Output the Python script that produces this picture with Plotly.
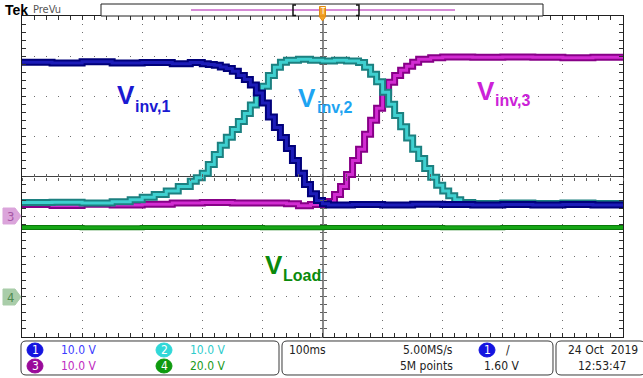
import plotly.graph_objects as go

# ---------------- data (time in ms, 100 ms/div; amplitude in screen divisions) -------------
t_ch1 = [-500,-450,-400,-350,-300,-250,-220,-200,-190,-180,-170,-160,-150,-140,-130,-120,-110,-100,
         -90,-80,-70,-60,-50,-40,-30,-20,-10,0,10,50,100,150,200,250,300,350,400,450,500]
v_ch1 = [2.85,2.83,2.86,2.83,2.84,2.81,2.84,2.81,2.79,2.77,2.73,2.69,2.62,2.52,2.42,2.28,2.08,1.83,
         1.48,1.22,0.97,0.70,0.40,0.08,-0.20,-0.43,-0.60,-0.68,-0.71,-0.70,-0.71,-0.69,-0.70,-0.71,
         -0.70,-0.71,-0.70,-0.71,-0.70]

t_ch2 = [-500,-450,-400,-350,-320,-300,-280,-260,-240,-220,-210,-200,-190,-180,-170,-160,-150,-140,
         -130,-120,-110,-100,-90,-80,-70,-60,-40,-20,0,20,40,60,70,80,90,100,110,120,130,140,150,160,
         170,180,190,200,210,220,230,250,300,350,400,450,500]
v_ch2 = [-0.65,-0.64,-0.66,-0.63,-0.58,-0.52,-0.45,-0.36,-0.25,-0.12,-0.03,0.08,0.30,0.55,0.78,0.98,
         1.17,1.37,1.57,1.78,2.02,2.25,2.52,2.72,2.85,2.90,2.92,2.90,2.88,2.90,2.88,2.84,2.72,2.55,2.36,
         2.10,1.80,1.52,1.24,0.96,0.68,0.45,0.20,-0.02,-0.22,-0.36,-0.48,-0.58,-0.65,-0.67,-0.66,-0.67,
         -0.66,-0.67,-0.66]

t_ch3 = [-500,-450,-400,-350,-300,-250,-200,-150,-100,-60,-40,-20,0,10,20,30,40,50,60,70,80,90,100,
         110,120,130,140,150,160,180,200,250,300,350,400,450,500]
v_ch3 = [-0.70,-0.72,-0.69,-0.71,-0.69,-0.66,-0.65,-0.66,-0.66,-0.68,-0.73,-0.70,-0.68,-0.62,-0.45,
         -0.25,0.05,0.40,0.68,1.05,1.40,1.70,2.10,2.35,2.52,2.65,2.75,2.85,2.92,2.96,2.98,2.97,2.98,
         2.97,2.96,2.97,2.96]

t_ch4 = [-500,-400,-300,-200,-100,0,100,200,300,400,500]
v_ch4 = [-1.27,-1.28,-1.27,-1.27,-1.28,-1.27,-1.27,-1.28,-1.27,-1.27,-1.28]

trace_labels = ["V", "inv,1", "inv,2", "inv,3", "Load"]
ch_scale_text = ["10.0 V", "10.0 V", "10.0 V", "20.0 V"]
timebase_text = "100ms"
sample_rate_text = "5.00MS/s"
record_text = "5M points"
trigger_level_text = "1.60 V"
date_text = "24 Oct  2019"
time_text = "12:53:47"

# ---------------- geometry helpers (decorations only) ----------------
W, H = 643, 378
L, R, T, B = 22, 623, 16, 337


def px(x):
    return (x - L) / (R - L)


def py(y):
    return (B - y) / (B - T)


fig = go.Figure()

channels = [
    (t_ch4, v_ch4, "#0a7a0a", "#16a616", 5, 3),
    (t_ch3, v_ch3, "#870087", "#d22cd2", 7, 3),
    (t_ch2, v_ch2, "#1c8080", "#3fd0d0", 7, 3),
    (t_ch1, v_ch1, "#00007a", "#1c1cb8", 7, 3),
]
for t, v, dark, light, w1, w2 in channels:
    fig.add_trace(go.Scatter(x=t, y=v, mode="lines", line=dict(color=dark, width=w1, shape="hv"),
                             hoverinfo="skip", showlegend=False))
    fig.add_trace(go.Scatter(x=t, y=v, mode="lines", line=dict(color=light, width=w2, shape="hv"),
                             hoverinfo="skip", showlegend=False))

# dummy traces to activate centre tick axes
fig.add_trace(go.Scatter(x=[None], y=[None], xaxis="x2", yaxis="y2", showlegend=False, hoverinfo="skip"))
fig.add_trace(go.Scatter(x=[None], y=[None], xaxis="x3", yaxis="y3", showlegend=False, hoverinfo="skip"))

common_x = dict(range=[-500, 500], showticklabels=False, fixedrange=True)
common_y = dict(range=[-4, 4], showticklabels=False, fixedrange=True)

fig.update_layout(
    width=W, height=H,
    margin=dict(l=L, r=W - R, t=T, b=H - B, pad=0),
    paper_bgcolor="white", plot_bgcolor="white",
    showlegend=False,
    xaxis=dict(**common_x, tickmode="linear", tick0=-500, dtick=100,
               showgrid=True, gridcolor="#6e6e6e", gridwidth=1, griddash="1px,7px",
               zeroline=True, zerolinecolor="#8a8a8a", zerolinewidth=2,
               showline=True, linecolor="#202020", linewidth=1, mirror="ticks",
               ticks="inside", ticklen=4, tickcolor="#303030",
               minor=dict(tickmode="linear", tick0=-500, dtick=20, ticks="inside", ticklen=4,
                          tickcolor="#303030", showgrid=False)),
    yaxis=dict(**common_y, tickmode="linear", tick0=-4, dtick=1,
               showgrid=True, gridcolor="#6e6e6e", gridwidth=1, griddash="1px,11px",
               zeroline=True, zerolinecolor="#404040", zerolinewidth=1,
               showline=True, linecolor="#202020", linewidth=1, mirror="ticks",
               ticks="inside", ticklen=4, tickcolor="#303030",
               minor=dict(tickmode="linear", tick0=-4, dtick=0.2, ticks="inside", ticklen=4,
                          tickcolor="#303030", showgrid=False)),
    xaxis2=dict(**common_x, overlaying="x", anchor="free", position=0.5, showgrid=False,
                zeroline=False, showline=False, tickmode="linear", tick0=-500, dtick=20,
                ticks="outside", ticklen=3, tickcolor="#606060"),
    yaxis2=dict(**common_y, overlaying="y", anchor="free", position=0.5, showgrid=False,
                zeroline=False, showline=False, tickmode="linear", tick0=-4, dtick=0.2,
                ticks="outside", ticklen=3, tickcolor="#606060"),
    xaxis3=dict(**common_x, overlaying="x", anchor="free", position=0.5, showgrid=False,
                zeroline=False, showline=False, tickmode="linear", tick0=-500, dtick=20,
                ticks="inside", ticklen=3, tickcolor="#606060"),
    yaxis3=dict(**common_y, overlaying="y", anchor="free", position=0.5, showgrid=False,
                zeroline=False, showline=False, tickmode="linear", tick0=-4, dtick=0.2,
                ticks="inside", ticklen=3, tickcolor="#606060"),
)

shapes = []
ann = []

# ---- trace labels ----
def label(x_left, y_mid_big, y_mid_small, x_sub, sub, color):
    ann.append(dict(x=px(x_left), y=py(y_mid_big), xref="paper", yref="paper", text="<b>V</b>",
                    showarrow=False, xanchor="left", yanchor="middle",
                    font=dict(family="Liberation Sans, Arial", size=26, color=color)))
    ann.append(dict(x=px(x_sub), y=py(y_mid_small), xref="paper", yref="paper", text="<b>%s</b>" % sub,
                    showarrow=False, xanchor="left", yanchor="middle",
                    font=dict(family="Liberation Sans, Arial", size=16, color=color)))

label(115, 95, 106, 133, trace_labels[1], "#1a1ad2")
label(296, 98, 107, 315, trace_labels[2], "#1ea4f2")
label(475, 91, 100, 493, trace_labels[3], "#cc22d8")
label(263, 265, 275, 281, trace_labels[4], "#0b8a0b")

# ---- top bar ----
ann.append(dict(x=px(3), y=py(9.5), xref="paper", yref="paper", text="<b>Tek</b>", showarrow=False,
                xanchor="left", yanchor="middle", font=dict(family="Liberation Sans, Arial", size=14, color="black")))
ann.append(dict(x=px(31), y=py(9), xref="paper", yref="paper", text="PreVu", showarrow=False,
                xanchor="left", yanchor="middle",
                font=dict(family="Liberation Sans Narrow, DejaVu Sans Condensed, Arial", size=11, color="#555555")))

shapes.append(dict(type="rect", xref="paper", yref="paper", x0=px(101), x1=px(543), y0=py(16), y1=py(4),
                   line=dict(color="#202020", width=1), fillcolor="white", layer="above"))
shapes.append(dict(type="line", xref="paper", yref="paper", x0=px(191), x1=px(455), y0=py(10), y1=py(10),
                   line=dict(color="#d68ad6", width=2), layer="above"))
for xb, d in [(293, 3), (359, -3)]:
    shapes.append(dict(type="path", xref="paper", yref="paper",
                       path="M %f,%f L %f,%f L %f,%f L %f,%f" % (px(xb + d), py(5), px(xb), py(5),
                                                                   px(xb), py(15.5), px(xb + d), py(15.5)),
                       line=dict(color="#111111", width=1.5), layer="above"))
shapes.append(dict(type="rect", xref="paper", yref="paper", x0=px(319.5), x1=px(325.5), y0=py(16.5), y1=py(6.5),
                   line=dict(color="#e08a10", width=1), fillcolor="#f3a32a", layer="above"))
shapes.append(dict(type="path", xref="paper", yref="paper",
                   path="M %f,%f L %f,%f L %f,%f Z" % (px(319), py(16), px(326), py(16), px(322.5), py(21)),
                   line=dict(color="#e08a10", width=1), fillcolor="#f3a32a", layer="above"))
ann.append(dict(x=px(322.5), y=py(11.5), xref="paper", yref="paper", text="T", showarrow=False,
                xanchor="center", yanchor="middle",
                font=dict(family="DejaVu Sans Condensed, Arial", size=8, color="white")))

# ---- left ground markers ----
for ymid, fill, tcol, num in [(216, "#dba4db", "#a657a6", "3"), (297, "#a9cda9", "#4f8a4f", "4")]:
    shapes.append(dict(type="path", xref="paper", yref="paper",
                       path="M %f,%f L %f,%f L %f,%f L %f,%f L %f,%f Z" % (
                           px(3), py(ymid - 8), px(15), py(ymid - 8), px(21), py(ymid),
                           px(15), py(ymid + 8), px(3), py(ymid + 8)),
                       line=dict(color=fill, width=1), fillcolor=fill, layer="above"))
    ann.append(dict(x=px(10.5), y=py(ymid), xref="paper", yref="paper", text=num, showarrow=False,
                    xanchor="center", yanchor="middle",
                    font=dict(family="DejaVu Sans Condensed, Arial", size=13, color=tcol)))

# ---- bottom status boxes ----
for x0, x1 in [(21, 279), (282, 553), (556, 645)]:
    shapes.append(dict(type="path", xref="paper", yref="paper",
                       path="M %f,%f L %f,%f Q %f,%f %f,%f L %f,%f Q %f,%f %f,%f L %f,%f Q %f,%f %f,%f L %f,%f Q %f,%f %f,%f Z" % (
                           px(x0 + 5), py(341), px(x1 - 5), py(341), px(x1), py(341), px(x1), py(346),
                           px(x1), py(370), px(x1), py(375), px(x1 - 5), py(375),
                           px(x0 + 5), py(375), px(x0), py(375), px(x0), py(370),
                           px(x0), py(346), px(x0), py(341), px(x0 + 5), py(341)),
                       line=dict(color="#3a3a3a", width=1), layer="above"))

status_font = "Liberation Sans Narrow, DejaVu Sans Condensed, Arial"
badges = [
    (35, 350, "#1414e0", "1", "#3c3cff", ch_scale_text[0]),
    (164, 350, "#30d8d8", "2", "#2ecccc", ch_scale_text[1]),
    (35, 366, "#9a0a9a", "3", "#c02cc0", ch_scale_text[2]),
    (164, 366, "#0e9a0e", "4", "#1a9a1a", ch_scale_text[3]),
]
for cx, cy, ccol, num, tcol, txt in badges:
    shapes.append(dict(type="circle", xref="paper", yref="paper", x0=px(cx - 8), x1=px(cx + 8),
                       y0=py(cy + 7), y1=py(cy - 7), line=dict(color=ccol, width=1), fillcolor=ccol,
                       layer="above"))
    ann.append(dict(x=px(cx), y=py(cy), xref="paper", yref="paper", text=num, showarrow=False,
                    xanchor="center", yanchor="middle", font=dict(family=status_font, size=12, color="white")))
    ann.append(dict(x=px(cx + 24), y=py(cy), xref="paper", yref="paper", text=txt, showarrow=False,
                    xanchor="left", yanchor="middle", font=dict(family=status_font, size=12, color=tcol)))

# trigger badge
shapes.append(dict(type="circle", xref="paper", yref="paper", x0=px(479), x1=px(495),
                   y0=py(357), y1=py(343), line=dict(color="#1414e0", width=1), fillcolor="#1414e0", layer="above"))
ann.append(dict(x=px(487), y=py(350), xref="paper", yref="paper", text="1", showarrow=False,
                xanchor="center", yanchor="middle", font=dict(family=status_font, size=12, color="white")))
ann.append(dict(x=px(508), y=py(350), xref="paper", yref="paper", text="/", showarrow=False,
                xanchor="center", yanchor="middle", font=dict(family=status_font, size=12, color="#222222")))

dark_texts = [
    (287, 350, "left", timebase_text),
    (455, 350, "right", sample_rate_text),
    (455, 366, "right", record_text),
    (521, 366, "right", trigger_level_text),
    (640, 350, "right", date_text),
    (576, 366, "left", time_text),
]
for x, y, anc, txt in dark_texts:
    ann.append(dict(x=px(x), y=py(y), xref="paper", yref="paper", text=txt, showarrow=False,
                    xanchor=anc, yanchor="middle", font=dict(family=status_font, size=12, color="#222222")))

fig.update_layout(shapes=shapes, annotations=ann)
fig.write_html("out.html")
